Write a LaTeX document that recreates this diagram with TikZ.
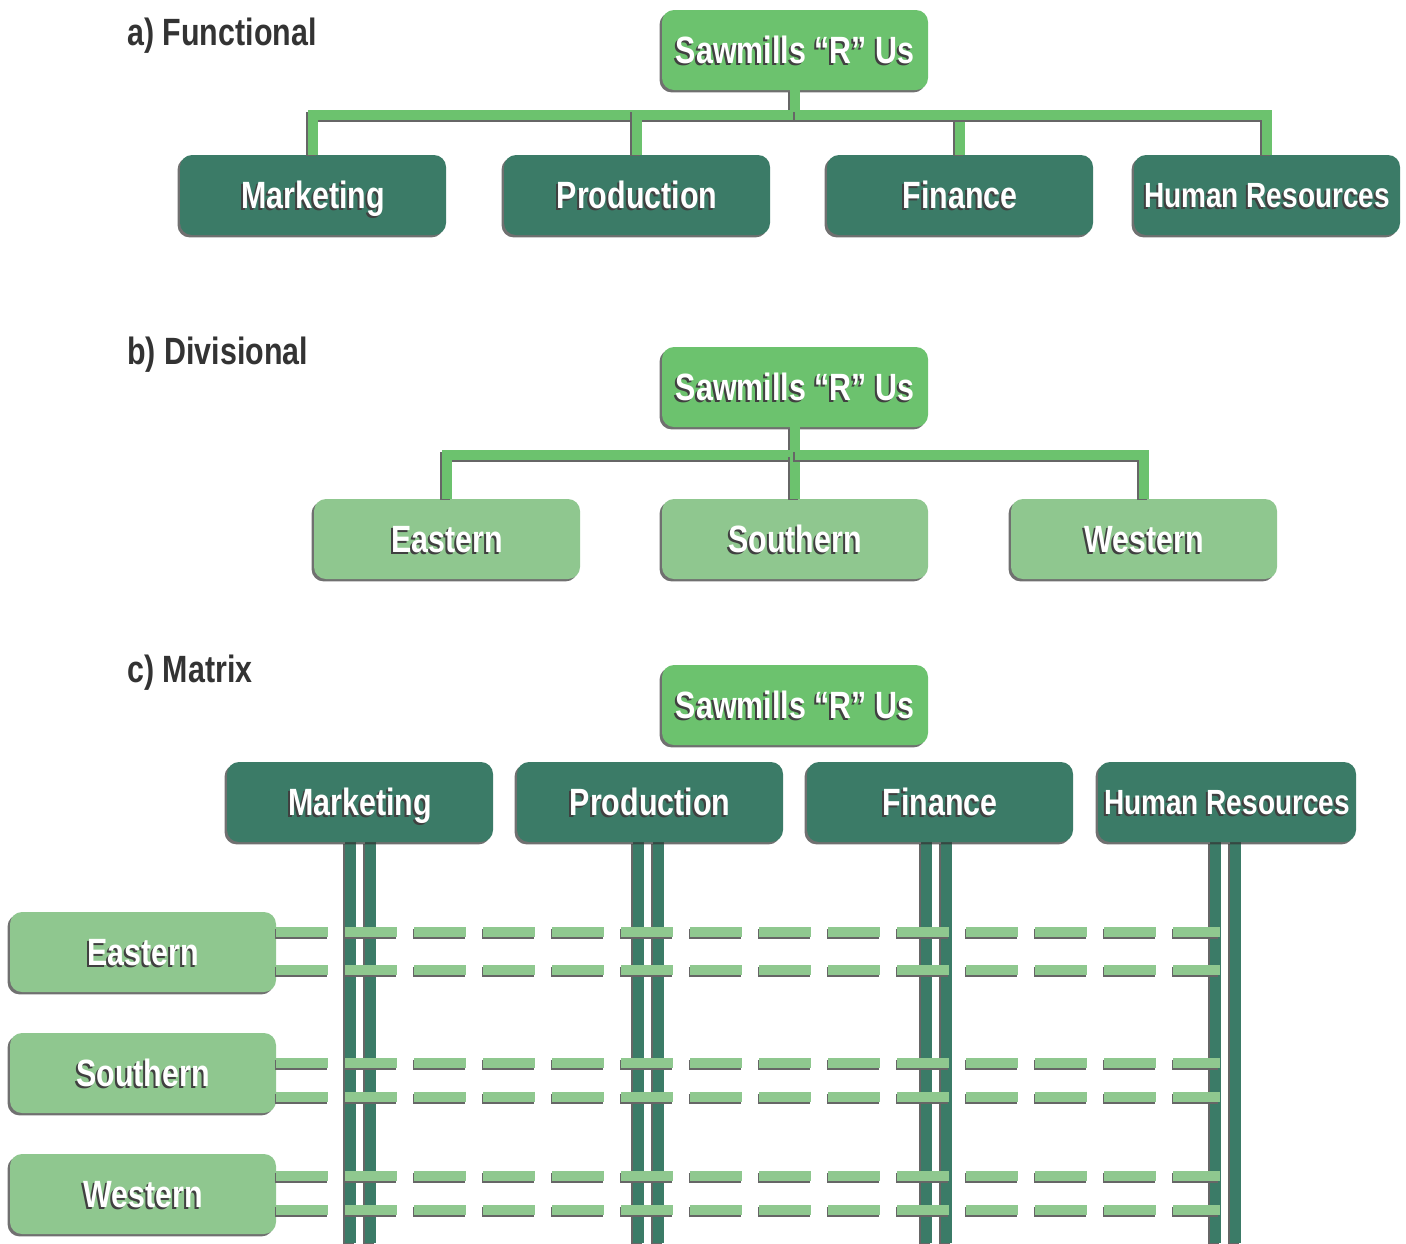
\documentclass[tikz,border=0pt]{standalone}
\usepackage{fontspec}
\setmainfont{Liberation Sans}
\newfontfamily\orgfont[FakeStretch=0.8]{Liberation Sans}
\usepackage{xcolor}
\definecolor{cTop}{HTML}{6CC26E}
\definecolor{cFunc}{HTML}{3B7B67}
\definecolor{cDiv}{HTML}{8FC78F}
\definecolor{cLink}{HTML}{6CC26E}
\definecolor{cDash}{HTML}{8FC88F}
\definecolor{cLabel}{HTML}{333333}
\usepackage{tikz}
\usetikzlibrary{positioning,shadows,calc}
% white box text with a dark offset copy behind it
\newcommand{\shtext}[1]{\makebox[0pt][l]{\kern-1pt\raisebox{-1pt}{\color{black!75}#1}}#1}
\tikzset{
  node-box/.style={rounded corners=6pt,inner sep=0pt,
    minimum height=40pt,minimum width=133pt,text=white,
    text height=13.6pt,text depth=0pt,
    font=\orgfont\bfseries\fontsize{19}{22}\selectfont,
    drop shadow={shadow xshift=-1.2pt,shadow yshift=-1.2pt,
      opacity=0.7,fill=black!80}},
  node-top/.style={node-box,fill=cTop},
  node-func/.style={node-box,fill=cFunc},
  node-div/.style={node-box,fill=cDiv},
  node-small/.style={font=\orgfont\bfseries\fontsize{17.5}{20}\selectfont,
    text height=12.5pt},
  part-label/.style={anchor=west,inner sep=0pt,text=cLabel,
    font=\orgfont\bfseries\fontsize{19}{22}\selectfont},
  line-shadow/.style={preaction={draw=black!60,line width=#1,
    transform canvas={shift={(-0.8pt,-0.8pt)}}}},
  link/.style={draw=cLink,line width=5pt,line-shadow=5pt},
  bar/.style={draw=cFunc,line width=5.5pt,line-shadow=5.5pt},
  cross/.style={draw=cDash,line width=5pt,dash pattern=on 26pt off 8.5pt,
    preaction={draw=black!60,line width=5pt,dash pattern=on 26pt off 8.5pt,
      transform canvas={shift={(-0.8pt,-0.8pt)}}}},
}
\begin{document}
\begin{tikzpicture}[x=0.5pt,y=-0.5pt]
  \useasboundingbox (0,0) rectangle (1406,1243);

  % a) functional
  \node[part-label] (fa-label) at (127,36) {a) Functional};
  \node[node-top] (fa-top) at (795,50) {\shtext{Sawmills “R” Us}};
  \node[node-func] (fa-mkt)  at (313,195)  {\shtext{Marketing}};
  \node[node-func] (fa-prod) at (637,195)  {\shtext{Production}};
  \node[node-func] (fa-fin)  at (960,195)  {\shtext{Finance}};
  \node[node-func,node-small] (fa-hr) at (1267,195) {\shtext{Human Resources}};
  \coordinate (fa-bus) at (795,115);
  \draw[link] (fa-top.south) -- (fa-bus);
  \foreach \n in {mkt,prod,fin,hr}
    \draw[link] (fa-bus) -| (fa-\n.north);

  % b) divisional
  \node[part-label] (db-label) at (127,355) {b) Divisional};
  \node[node-top] (db-top) at (795,387) {\shtext{Sawmills “R” Us}};
  \node[node-div] (db-east)  at (447,539)  {\shtext{Eastern}};
  \node[node-div] (db-south) at (795,539)  {\shtext{Southern}};
  \node[node-div] (db-west)  at (1144,539) {\shtext{Western}};
  \coordinate (db-bus) at (795,455);
  \draw[link] (db-top.south) -- (db-bus);
  \foreach \n in {east,south,west}
    \draw[link] (db-bus) -| (db-\n.north);

  % c) matrix
  \node[part-label] (mx-label) at (127,673) {c) Matrix};
  \node[node-top] (mx-top) at (795,705) {\shtext{Sawmills “R” Us}};
  \foreach \n/\x in {mkt/360,prod/648,fin/936,hr/1225} {
    \coordinate (mx-\n-end) at (\x,1243);
    \foreach \s in {-10,10}
      \draw[bar] ([xshift=\s*0.5pt]\x,842) -- ([xshift=\s*0.5pt]mx-\n-end);
  }
  \node[node-func] (mx-mkt)  at (360,802)  {\shtext{Marketing}};
  \node[node-func] (mx-prod) at (650,802)  {\shtext{Production}};
  \node[node-func] (mx-fin)  at (940,802)  {\shtext{Finance}};
  \node[node-func,node-small,minimum width=129pt] (mx-hr) at (1227,802)
    {\shtext{Human Resources}};
  \node[node-div] (mx-east)  at (143,952)  {\shtext{Eastern}};
  \node[node-div] (mx-south) at (143,1073) {\shtext{Southern}};
  \node[node-div] (mx-west)  at (143,1194) {\shtext{Western}};
  \foreach \n/\a/\b in {east/932/970,south/1063/1097,west/1176/1210} {
    \coordinate (mx-\n-a) at (1220,\a);
    \coordinate (mx-\n-b) at (1220,\b);
    \draw[cross] (mx-\n.east |- mx-\n-a) -- (mx-\n-a);
    \draw[cross] (mx-\n.east |- mx-\n-b) -- (mx-\n-b);
  }
\end{tikzpicture}
\end{document}
